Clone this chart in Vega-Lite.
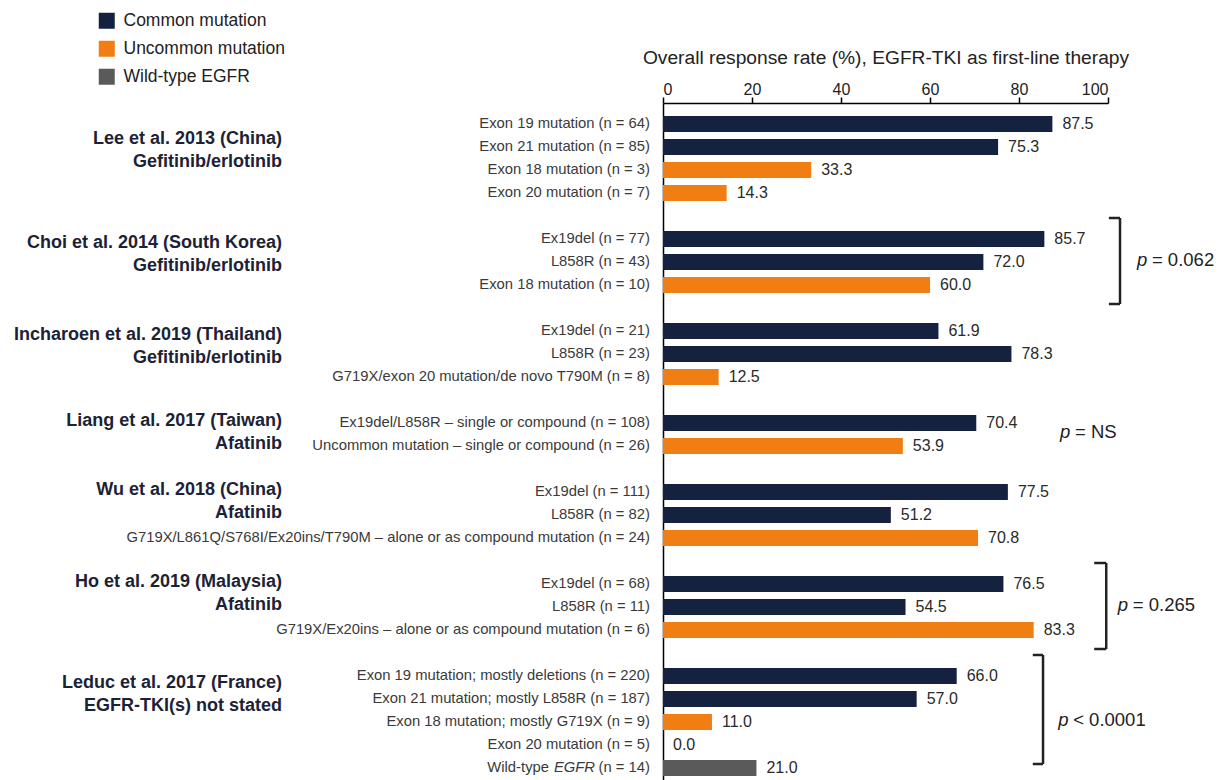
{
  "$schema": "https://vega.github.io/schema/vega-lite/v6.json",
  "width": 445,
  "height": 686,
  "autosize": {"type": "none"},
  "padding": {"left": 663, "top": 103, "right": 111, "bottom": 0},
  "background": "white",
  "config": {"view": {"stroke": null}, "font": "Liberation Sans"},
  "datasets": {
    "rows": [
      {"id": "a1", "study": "Lee", "lab": "Exon 19 mutation (n = 64)", "v": 87.5, "type": "Common mutation", "g": "Lee et al. 2013 (China)"},
      {"id": "a2", "study": "Lee", "lab": "Exon 21 mutation (n = 85)", "v": 75.3, "type": "Common mutation", "g": "Gefitinib/erlotinib"},
      {"id": "a3", "study": "Lee", "lab": "Exon 18 mutation (n = 3)", "v": 33.3, "type": "Uncommon mutation"},
      {"id": "a4", "study": "Lee", "lab": "Exon 20 mutation (n = 7)", "v": 14.3, "type": "Uncommon mutation"},
      {"id": "b1", "study": "Choi", "lab": "Ex19del (n = 77)", "v": 85.7, "type": "Common mutation", "g": "Choi et al. 2014 (South Korea)"},
      {"id": "b2", "study": "Choi", "lab": "L858R (n = 43)", "v": 72.0, "type": "Common mutation", "g": "Gefitinib/erlotinib"},
      {"id": "b3", "study": "Choi", "lab": "Exon 18 mutation (n = 10)", "v": 60.0, "type": "Uncommon mutation"},
      {"id": "c1", "study": "Incharoen", "lab": "Ex19del (n = 21)", "v": 61.9, "type": "Common mutation", "g": "Incharoen et al. 2019 (Thailand)"},
      {"id": "c2", "study": "Incharoen", "lab": "L858R (n = 23)", "v": 78.3, "type": "Common mutation", "g": "Gefitinib/erlotinib"},
      {"id": "c3", "study": "Incharoen", "lab": "G719X/exon 20 mutation/de novo T790M (n = 8)", "v": 12.5, "type": "Uncommon mutation"},
      {"id": "d1", "study": "Liang", "lab": "Ex19del/L858R – single or compound (n = 108)", "v": 70.4, "type": "Common mutation", "g": "Liang et al. 2017 (Taiwan)"},
      {"id": "d2", "study": "Liang", "lab": "Uncommon mutation – single or compound (n = 26)", "v": 53.9, "type": "Uncommon mutation", "g": "Afatinib"},
      {"id": "e1", "study": "Wu", "lab": "Ex19del (n = 111)", "v": 77.5, "type": "Common mutation", "g": "Wu et al. 2018 (China)"},
      {"id": "e2", "study": "Wu", "lab": "L858R (n = 82)", "v": 51.2, "type": "Common mutation", "g": "Afatinib"},
      {"id": "e3", "study": "Wu", "lab": "G719X/L861Q/S768I/Ex20ins/T790M – alone or as compound mutation (n = 24)", "v": 70.8, "type": "Uncommon mutation"},
      {"id": "f1", "study": "Ho", "lab": "Ex19del (n = 68)", "v": 76.5, "type": "Common mutation", "g": "Ho et al. 2019 (Malaysia)"},
      {"id": "f2", "study": "Ho", "lab": "L858R (n = 11)", "v": 54.5, "type": "Common mutation", "g": "Afatinib"},
      {"id": "f3", "study": "Ho", "lab": "G719X/Ex20ins – alone or as compound mutation (n = 6)", "v": 83.3, "type": "Uncommon mutation"},
      {"id": "h1", "study": "Leduc", "lab": "Exon 19 mutation; mostly deletions (n = 220)", "v": 66.0, "type": "Common mutation", "g": "Leduc et al. 2017 (France)"},
      {"id": "h2", "study": "Leduc", "lab": "Exon 21 mutation; mostly L858R (n = 187)", "v": 57.0, "type": "Common mutation", "g": "EGFR-TKI(s) not stated"},
      {"id": "h3", "study": "Leduc", "lab": "Exon 18 mutation; mostly G719X (n = 9)", "v": 11.0, "type": "Uncommon mutation"},
      {"id": "h4", "study": "Leduc", "lab": "Exon 20 mutation (n = 5)", "v": 0.0, "type": "Uncommon mutation"},
      {"id": "h5", "study": "Leduc", "lab": "Wild-type EGFR (n = 14)", "labA": "Wild-type", "labB": "EGFR", "labC": "(n = 14)", "v": 21.0, "type": "Wild-type EGFR"}
    ],
    "notes": [
      {"study": "Choi", "top": "b1", "bot": "b3", "pRow": "b2", "xc": 100.2, "xv": 102.7, "xp": 106.5, "pv": "= 0.062"},
      {"study": "Ho", "top": "f1", "bot": "f3", "pRow": "f2", "xc": 96.9, "xv": 99.6, "xp": 102.2, "pv": "= 0.265"},
      {"study": "Leduc", "top": "h1", "bot": "h4", "pRow": "h3", "xc": 83.1, "xv": 85.4, "xp": 88.8, "pv": "< 0.0001"},
      {"study": "Liang", "pRow": "d1", "xp": 89.2, "pv": "= NS"}
    ]
  },
  "data": {"name": "rows"},
  "encoding": {
    "y": {
      "field": "id",
      "type": "nominal",
      "sort": null,
      "scale": {
        "domain": ["a1","a2","a3","a4","s1","b1","b2","b3","s2","c1","c2","c3","s3","d1","d2","s4","e1","e2","e3","s5","f1","f2","f3","s6","h1","h2","h3","h4","h5"],
        "paddingInner": 0.3,
        "paddingOuter": 0.563
      },
      "axis": {"labels": false, "ticks": false, "title": null, "domainColor": "#000000", "domainWidth": 1.5}
    }
  },
  "layer": [
    {
      "mark": {"type": "bar"},
      "encoding": {
        "x": {
          "field": "v",
          "type": "quantitative",
          "scale": {"domain": [0, 100], "nice": false, "zero": true},
          "axis": {
            "orient": "top",
            "values": [0, 20, 40, 60, 80, 100],
            "grid": false,
            "title": "Overall response rate (%), EGFR-TKI as first-line therapy",
            "titleFontSize": 19.2,
            "titleFontWeight": "normal",
            "titleColor": "#222222",
            "titlePadding": 14,
            "labelFontSize": 16,
            "labelColor": "#222222",
            "labelPadding": 0,
            "tickSize": 6,
            "tickColor": "#000000",
            "tickWidth": 1.5,
            "domainColor": "#000000",
            "domainWidth": 1.5
          }
        },
        "color": {
          "field": "type",
          "type": "nominal",
          "scale": {"domain": ["Common mutation", "Uncommon mutation", "Wild-type EGFR"], "range": ["#14213f", "#f07e12", "#5a5a5a"]},
          "legend": {
            "orient": "none",
            "legendX": -565,
            "legendY": -91,
            "title": null,
            "symbolType": "square",
            "symbolSize": 256,
            "symbolStrokeWidth": 0,
            "symbolOpacity": 1,
            "labelFontSize": 17.5,
            "labelColor": "#222222",
            "labelOffset": 8,
            "labelLimit": 400,
            "rowPadding": 9
          }
        }
      }
    },
    {
      "mark": {"type": "text", "align": "left", "baseline": "middle", "dx": 10, "fontSize": 16, "color": "#2a2a2a"},
      "encoding": {
        "x": {"field": "v", "type": "quantitative"},
        "text": {"field": "v", "type": "quantitative", "format": ".1f"}
      }
    },
    {
      "transform": [{"filter": "datum.id !== 'h5'"}],
      "mark": {"type": "text", "align": "right", "baseline": "middle", "dx": -13, "fontSize": 14.8, "color": "#3a3a3a"},
      "encoding": {"x": {"datum": 0}, "text": {"field": "lab"}}
    },
    {
      "transform": [{"filter": "datum.id === 'h5'"}],
      "mark": {"type": "text", "align": "right", "baseline": "middle", "dx": -13, "fontSize": 14.8, "color": "#3a3a3a"},
      "encoding": {"x": {"datum": 0}, "text": {"field": "labC"}}
    },
    {
      "transform": [{"filter": "datum.id === 'h5'"}],
      "mark": {"type": "text", "align": "right", "baseline": "middle", "dx": -68, "fontSize": 14.8, "fontStyle": "italic", "color": "#3a3a3a"},
      "encoding": {"x": {"datum": 0}, "text": {"field": "labB"}}
    },
    {
      "transform": [{"filter": "datum.id === 'h5'"}],
      "mark": {"type": "text", "align": "right", "baseline": "middle", "dx": -114, "fontSize": 14.8, "color": "#3a3a3a"},
      "encoding": {"x": {"datum": 0}, "text": {"field": "labA"}}
    },
    {
      "transform": [{"filter": "datum.g && datum.study === 'Lee'"}],
      "mark": {"type": "text", "align": "right", "baseline": "middle", "dx": -381, "dy": 15, "fontSize": 18, "fontWeight": "bold", "color": "#1c2236"},
      "encoding": {"x": {"datum": 0}, "text": {"field": "g"}}
    },
    {
      "transform": [{"filter": "datum.g && (datum.study === 'Choi' || datum.study === 'Incharoen')"}],
      "mark": {"type": "text", "align": "right", "baseline": "middle", "dx": -381, "dy": 4, "fontSize": 18, "fontWeight": "bold", "color": "#1c2236"},
      "encoding": {"x": {"datum": 0}, "text": {"field": "g"}}
    },
    {
      "transform": [{"filter": "datum.g && (datum.study === 'Liang' || datum.study === 'Wu' || datum.study === 'Ho')"}],
      "mark": {"type": "text", "align": "right", "baseline": "middle", "dx": -381, "dy": -2, "fontSize": 18, "fontWeight": "bold", "color": "#1c2236"},
      "encoding": {"x": {"datum": 0}, "text": {"field": "g"}}
    },
    {
      "transform": [{"filter": "datum.g && datum.study === 'Leduc'"}],
      "mark": {"type": "text", "align": "right", "baseline": "middle", "dx": -381, "dy": 7, "fontSize": 18, "fontWeight": "bold", "color": "#1c2236"},
      "encoding": {"x": {"datum": 0}, "text": {"field": "g"}}
    },
    {
      "data": {"name": "notes"},
      "transform": [{"filter": "datum.top"}],
      "mark": {"type": "rule", "strokeWidth": 2.5, "color": "#222222", "yOffset": -21, "y2Offset": 19},
      "encoding": {
        "x": {"field": "xv", "type": "quantitative"},
        "y": {"field": "top", "type": "nominal"},
        "y2": {"field": "bot"}
      }
    },
    {
      "data": {"name": "notes"},
      "transform": [{"filter": "datum.top"}],
      "mark": {"type": "rule", "strokeWidth": 2.5, "color": "#222222", "yOffset": -21},
      "encoding": {
        "x": {"field": "xc", "type": "quantitative"},
        "x2": {"field": "xv"},
        "y": {"field": "top", "type": "nominal"}
      }
    },
    {
      "data": {"name": "notes"},
      "transform": [{"filter": "datum.top"}],
      "mark": {"type": "rule", "strokeWidth": 2.5, "color": "#222222", "yOffset": 19},
      "encoding": {
        "x": {"field": "xc", "type": "quantitative"},
        "x2": {"field": "xv"},
        "y": {"field": "bot", "type": "nominal"}
      }
    },
    {
      "data": {"name": "notes"},
      "transform": [{"filter": "datum.study !== 'Liang'"}],
      "mark": {"type": "text", "align": "left", "baseline": "middle", "dy": -2, "fontSize": 18.5, "fontStyle": "italic", "color": "#222222"},
      "encoding": {"x": {"field": "xp", "type": "quantitative"}, "y": {"field": "pRow", "type": "nominal"}, "text": {"value": "p"}}
    },
    {
      "data": {"name": "notes"},
      "transform": [{"filter": "datum.study !== 'Liang'"}],
      "mark": {"type": "text", "align": "left", "baseline": "middle", "dy": -2, "dx": 15, "fontSize": 18.5, "color": "#222222"},
      "encoding": {"x": {"field": "xp", "type": "quantitative"}, "y": {"field": "pRow", "type": "nominal"}, "text": {"field": "pv"}}
    },
    {
      "data": {"name": "notes"},
      "transform": [{"filter": "datum.study === 'Liang'"}],
      "mark": {"type": "text", "align": "left", "baseline": "middle", "dy": 9, "fontSize": 18.5, "fontStyle": "italic", "color": "#222222"},
      "encoding": {"x": {"field": "xp", "type": "quantitative"}, "y": {"field": "pRow", "type": "nominal"}, "text": {"value": "p"}}
    },
    {
      "data": {"name": "notes"},
      "transform": [{"filter": "datum.study === 'Liang'"}],
      "mark": {"type": "text", "align": "left", "baseline": "middle", "dy": 9, "dx": 15, "fontSize": 18.5, "color": "#222222"},
      "encoding": {"x": {"field": "xp", "type": "quantitative"}, "y": {"field": "pRow", "type": "nominal"}, "text": {"field": "pv"}}
    }
  ]
}
